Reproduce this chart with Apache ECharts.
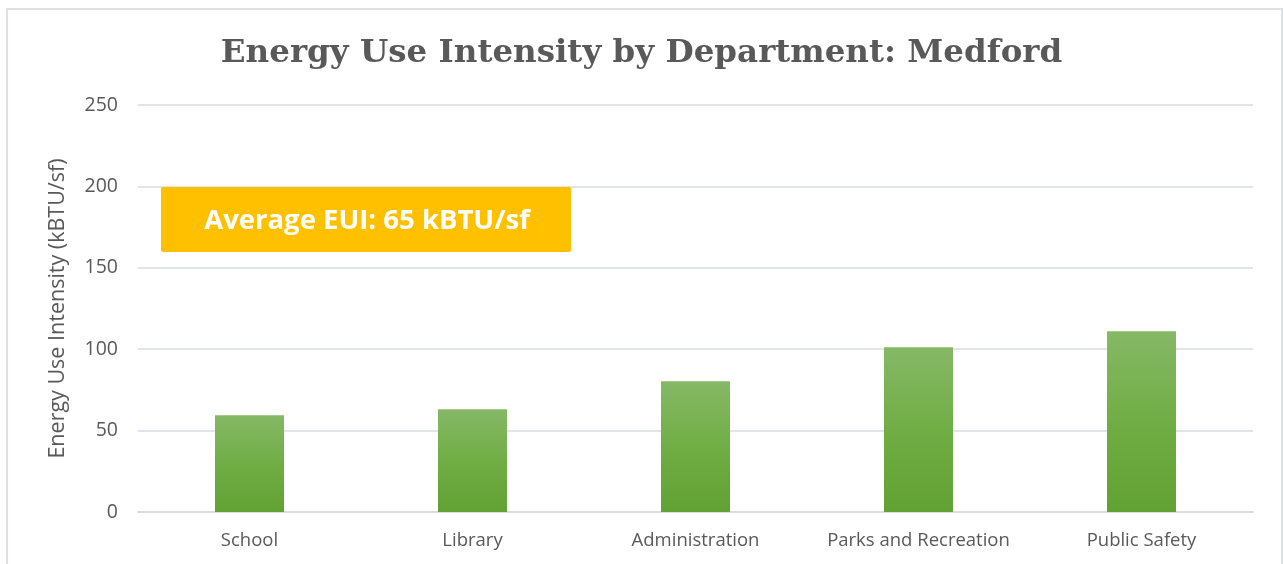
<!DOCTYPE html>
<html><head><meta charset="utf-8">
<script src="https://cdn.jsdelivr.net/npm/echarts@6/dist/echarts.min.js"></script>
<style>html,body{margin:0;padding:0;background:#fff}#c{width:1283px;height:564px}</style>
</head><body><div id="c"></div>
<script>
const categories = ['School', 'Library', 'Administration', 'Parks and Recreation', 'Public Safety'];
const euiValues = [59.5, 63.1, 80.3, 101.2, 111.1];
const yTicks = { min: 0, max: 250, interval: 50 };
const titleText = 'Energy Use Intensity by Department: Medford';
const yAxisName = 'Energy Use Intensity (kBTU/sf)';
const averageText = 'Average EUI: 65 kBTU/sf';

const chart = echarts.init(document.getElementById('c'));
const labelFont = '"Open Sans", "Noto Sans", sans-serif';
chart.setOption({
  animation: false,
  title: {
    text: titleText, left: 'center', top: 32,
    textStyle: { fontFamily: '"DejaVu Serif", serif', fontWeight: 'bold', fontSize: 32.5, color: '#595959' }
  },
  grid: { left: 138, right: 30, top: 105, bottom: 52 },
  xAxis: {
    type: 'category', data: categories,
    axisLine: { lineStyle: { color: '#d9dde3', width: 2 } },
    axisTick: { show: false },
    axisLabel: { interval: 0, fontFamily: labelFont, fontSize: 18.5, color: '#595959', margin: 19 }
  },
  yAxis: {
    type: 'value', min: yTicks.min, max: yTicks.max, interval: yTicks.interval,
    name: yAxisName, nameLocation: 'middle', nameGap: 69, nameRotate: 90,
    nameTextStyle: { fontFamily: labelFont, fontSize: 21.5, color: '#595959' },
    axisLine: { show: false }, axisTick: { show: false },
    axisLabel: { fontFamily: labelFont, fontSize: 19.5, color: '#595959', margin: 20 },
    splitLine: { lineStyle: { color: '#e1e4ea', width: 2 } }
  },
  series: [{
    type: 'bar', data: euiValues, barWidth: 69,
    itemStyle: {
      color: new echarts.graphic.LinearGradient(0, 0, 0, 1, [
        { offset: 0, color: '#86b866' },
        { offset: 0.5, color: '#70ae45' },
        { offset: 1, color: '#62a133' }
      ])
    }
  }],
  graphic: [
    { type: 'rect', silent: true, z: -10,
      shape: { x: 7, y: 9, width: 1275, height: 600 },
      style: { fill: 'none', stroke: '#dde0e5', lineWidth: 2 } },
    { type: 'rect', z: 10, silent: true,
      shape: { x: 161, y: 187, width: 410, height: 65, r: 2 }, style: { fill: '#ffc000' } },
    { type: 'text', z: 11, silent: true, x: 367, y: 221,
      style: { text: averageText, fill: '#ffffff', font: 'bold 27.5px "Open Sans", "Noto Sans", sans-serif',
               align: 'center', verticalAlign: 'middle' } }
  ]
});
</script></body></html>
